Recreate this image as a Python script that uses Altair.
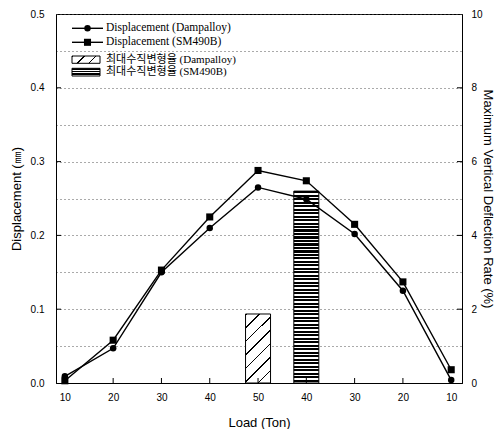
import altair as alt
import pandas as pd

# ---------------- data ----------------
loads = ["10", "20", "30", "40", "50", "40", "30", "20", "10"]
disp_dampalloy = [0.009, 0.047, 0.150, 0.210, 0.265, 0.249, 0.202, 0.125, 0.004]
disp_sm490b = [0.003, 0.058, 0.153, 0.225, 0.288, 0.274, 0.215, 0.137, 0.018]
rate_series = ["Dampalloy", "SM490B"]
rate_load_index = [4, 5]          # load step where each bar stands (50 ton, 40 ton unloading)
rate_values = [1.87, 5.2]         # Maximum Vertical Deflection Rate (%)
left_ticks = [0.1, 0.2, 0.3, 0.4]
right_ticks = [2, 4, 6, 8]
legend_labels = [
    "Displacement (Dampalloy)",
    "Displacement (SM490B)",
    "최대수직변형율 (Dampalloy)",
    "최대수직변형율 (SM490B)",
]

W, H = 406, 369
idx = list(range(len(loads)))
disp_df = pd.DataFrame({"idx": idx, "load": loads,
                        "dampalloy": disp_dampalloy, "sm490b": disp_sm490b})
tick_x_df = pd.DataFrame({"idx": idx})

label_expr = "[" + ",".join("'%s'" % l for l in loads) + "][datum.value]"


def X():
    return alt.X(
        "idx:Q",
        scale=alt.Scale(domain=[-0.08, 8.12], nice=False, zero=False),
        axis=alt.Axis(values=idx, labelExpr=label_expr, ticks=False, grid=False,
                      labelPadding=9, title="Load (Ton)", titleY=39,
                      titleBaseline="middle", titleAlign="center", titleFontSize=13),
    )


def YL(field):
    return alt.Y(
        field,
        type="quantitative",
        scale=alt.Scale(domain=[0, 0.5], nice=False, zero=True),
        axis=alt.Axis(values=[round(i * 0.05, 2) for i in range(11)],
                      labelExpr="round(datum.value*20) % 2 == 0 ? format(datum.value, '.1f') : ''",
                      grid=True, gridDash=[1, 3], gridColor="#555555", gridWidth=1,
                      ticks=False, labelPadding=12,
                      title="Displacement (㎜)", titleX=-40, titleY=H / 2,
                      titleAngle=-90, titleAlign="center", titleBaseline="middle"),
    )


def YR(field):
    return alt.Y(
        field,
        type="quantitative",
        scale=alt.Scale(domain=[0, 10], nice=False, zero=True),
        axis=alt.Axis(orient="right", values=[0, 2, 4, 6, 8, 10], ticks=False, grid=False,
                      labelPadding=9, title="Maximum Vertical Deflection Rate (%)",
                      titleX=25, titleY=H / 2, titleAngle=90, titleAlign="center",
                      titleBaseline="middle"),
    )


def stripes(n, dark, x2, y2):
    stops = []
    for i in range(n):
        a, b, c = i / n, (i + dark) / n, (i + 1) / n
        stops += [alt.GradientStop(color="black", offset=a),
                  alt.GradientStop(color="black", offset=b),
                  alt.GradientStop(color="white", offset=b),
                  alt.GradientStop(color="white", offset=c)]
    return alt.LinearGradient(gradient="linear", stops=stops, x1=0, y1=0, x2=x2, y2=y2)


hatch_diag_bar = stripes(7, 0.12, 0.436, 1.204)
hatch_horiz_bar = stripes(55, 0.6, 0, 1)
hatch_diag_leg = stripes(3, 0.12, 1.176, 0.294)
hatch_horiz_leg = stripes(3, 0.5, 0, 1)

# ---------------- right-axis group (bars) ----------------
bar_df_d = pd.DataFrame({"idx": [rate_load_index[0]], "rate": [rate_values[0]], "s": [rate_series[0]]})
bar_df_s = pd.DataFrame({"idx": [rate_load_index[1]], "rate": [rate_values[1]], "s": [rate_series[1]]})
rt_df = pd.DataFrame({"rate": right_ticks})

bar_d = alt.Chart(bar_df_d).mark_bar(size=25, fill=hatch_diag_bar, stroke="black",
                                     strokeWidth=1).encode(x=X(), y=YR("rate"))
bar_s = alt.Chart(bar_df_s).mark_bar(size=25, fill=hatch_horiz_bar, stroke="black",
                                     strokeWidth=1).encode(x=X(), y=YR("rate"))
rticks = alt.Chart(rt_df).mark_rule(color="black", strokeWidth=1).encode(
    y=YR("rate"), x=alt.value(W), x2=alt.value(W - 5))
right = alt.layer(bar_d, bar_s, rticks)

# ---------------- left-axis group (lines) ----------------
lt_df = pd.DataFrame({"v": left_ticks})
line_d = alt.Chart(disp_df).mark_line(
    color="black", strokeWidth=1.4,
    point=alt.OverlayMarkDef(shape="circle", size=42, filled=True, color="black"),
).encode(x=X(), y=YL("dampalloy"))
line_s = alt.Chart(disp_df).mark_line(
    color="black", strokeWidth=1.4,
    point=alt.OverlayMarkDef(shape="square", size=50, filled=True, color="black"),
).encode(x=X(), y=YL("sm490b"))
lticks = alt.Chart(lt_df).mark_rule(color="black", strokeWidth=1).encode(
    y=YL("v"), x=alt.value(0), x2=alt.value(5))
xticks = alt.Chart(tick_x_df).mark_rule(color="black", strokeWidth=1).encode(
    x=X(), y=alt.value(H), y2=alt.value(H - 5))
left = alt.layer(lticks, xticks, line_d, line_s)

# ---------------- legend ----------------
one = alt.Data(values=[{"k": 1}])
leg_font = "Liberation Serif, 'Noto Sans CJK KR'"
legend_layers = []
line_rows = [(14.3, "circle", 42), (28.3, "square", 50)]
for (yy, shp, sz), lab in zip(line_rows, legend_labels[:2]):
    legend_layers.append(alt.Chart(one).mark_rule(color="black", strokeWidth=1.4).encode(
        x=alt.value(16), x2=alt.value(47), y=alt.value(yy)))
    legend_layers.append(alt.Chart(one).mark_point(shape=shp, size=sz, filled=True,
                                                    color="black", opacity=1).encode(
        x=alt.value(31.5), y=alt.value(yy)))
    legend_layers.append(alt.Chart(one).mark_text(align="left", baseline="middle", font=leg_font,
                                                   fontSize=11.5, color="black").encode(
        x=alt.value(50), y=alt.value(yy), text=alt.value(lab)))
rect_rows = [(42, 49.3, hatch_diag_leg), (54.3, 62, hatch_horiz_leg)]
for (y1, y2, fillg), lab in zip(rect_rows, legend_labels[2:]):
    legend_layers.append(alt.Chart(one).mark_rect(fill=fillg, stroke="black", strokeWidth=1).encode(
        x=alt.value(16), x2=alt.value(44), y=alt.value(y1), y2=alt.value(y2)))
    legend_layers.append(alt.Chart(one).mark_text(align="left", baseline="middle", font=leg_font,
                                                   fontSize=11, color="black").encode(
        x=alt.value(50), y=alt.value((y1 + y2) / 2), text=alt.value(lab)))

chart = alt.layer(right, left, *legend_layers).resolve_scale(y="independent").properties(
    width=W, height=H,
    autosize=alt.AutoSizeParams(type="none"),
    padding={"left": 48, "top": 6, "right": 32, "bottom": 46},
).configure_view(stroke="black", strokeWidth=1).configure_axis(
    labelFont="Liberation Sans", labelFontSize=10, labelColor="black",
    titleFont="Liberation Sans", titleFontSize=13, titleFontWeight="normal", titleColor="black",
    domainColor="black", domainWidth=1,
)

chart.save("out.html", embed_options={"renderer": "svg", "actions": False})
